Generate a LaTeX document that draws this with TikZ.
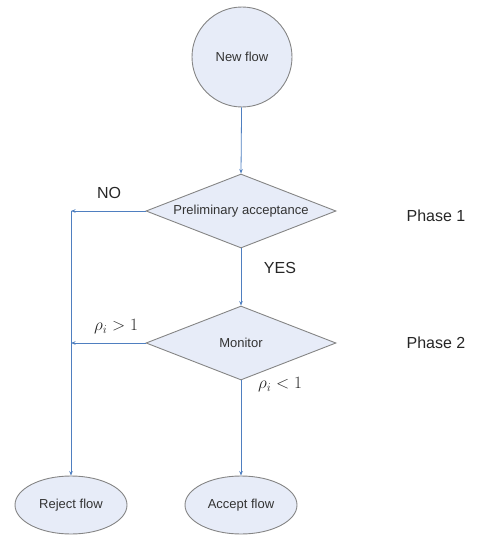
\documentclass[tikz,border=0pt]{standalone}
\usepackage{fontspec}
\setmainfont{Liberation Sans}
\usetikzlibrary{shapes.geometric,arrows.meta}
\definecolor{shapefill}{HTML}{E7ECF8}
\definecolor{shapeline}{HTML}{858585}
\definecolor{arrowblue}{HTML}{4F7FC0}
\definecolor{txt}{HTML}{333333}
\tikzset{
  shapebase/.style={draw=shapeline, fill=shapefill, line width=0.9pt, inner sep=0pt, text=txt, font=\fontsize{13}{15}\selectfont},
  startnode/.style={shapebase, circle, minimum size=100pt},
  decision/.style={shapebase, diamond, aspect=2.57, minimum width=190pt, minimum height=74pt},
  endnode/.style={shapebase, ellipse, minimum width=112pt, minimum height=58pt},
  flow/.style={draw=arrowblue, line width=0.8pt, -{Stealth[length=4.5pt,width=3.5pt]}},
  plainflow/.style={draw=arrowblue, line width=0.8pt},
  lbl/.style={text=black!85, font=\fontsize{16}{19}\selectfont, inner sep=0pt},
  mlbl/.style={text=black!85, font=\fontsize{17}{19}\selectfont, inner sep=0pt}
}
\begin{document}
\begin{tikzpicture}[x=1pt,y=-1pt]
\useasboundingbox (0,0) rectangle (477,535);
\node[startnode] (new) at (242,57) {New flow};
\node[decision] (pre) at (241,211) {Preliminary acceptance};
\node[decision] (mon) at (241,343) {Monitor};
\node[endnode] (rej) at (71,505) {Reject flow};
\node[endnode] (acc) at (241,505) {Accept flow};
\coordinate (j1) at (71,211);
\coordinate (j2) at (71,343);
\draw[flow] (new) -- (pre.north);
\draw[flow] (pre.south) -- (mon.north);
\draw[flow] (mon.south) -- (acc.north);
\draw[flow] (pre.west) -- (j1);
\draw[flow] (mon.west) -- (j2);
\draw[flow] (j1) -- (rej.north);
\node[lbl] (no) at (109,193) {NO};
\node[lbl] (yes) at (280,268) {YES};
\node[mlbl] (gt) at (116,327) {$\rho_i > 1$};
\node[mlbl] (lt) at (280,385) {$\rho_i < 1$};
\node[lbl] (ph1) at (436,216) {Phase 1};
\node[lbl] (ph2) at (436,343) {Phase 2};
\end{tikzpicture}
\end{document}
